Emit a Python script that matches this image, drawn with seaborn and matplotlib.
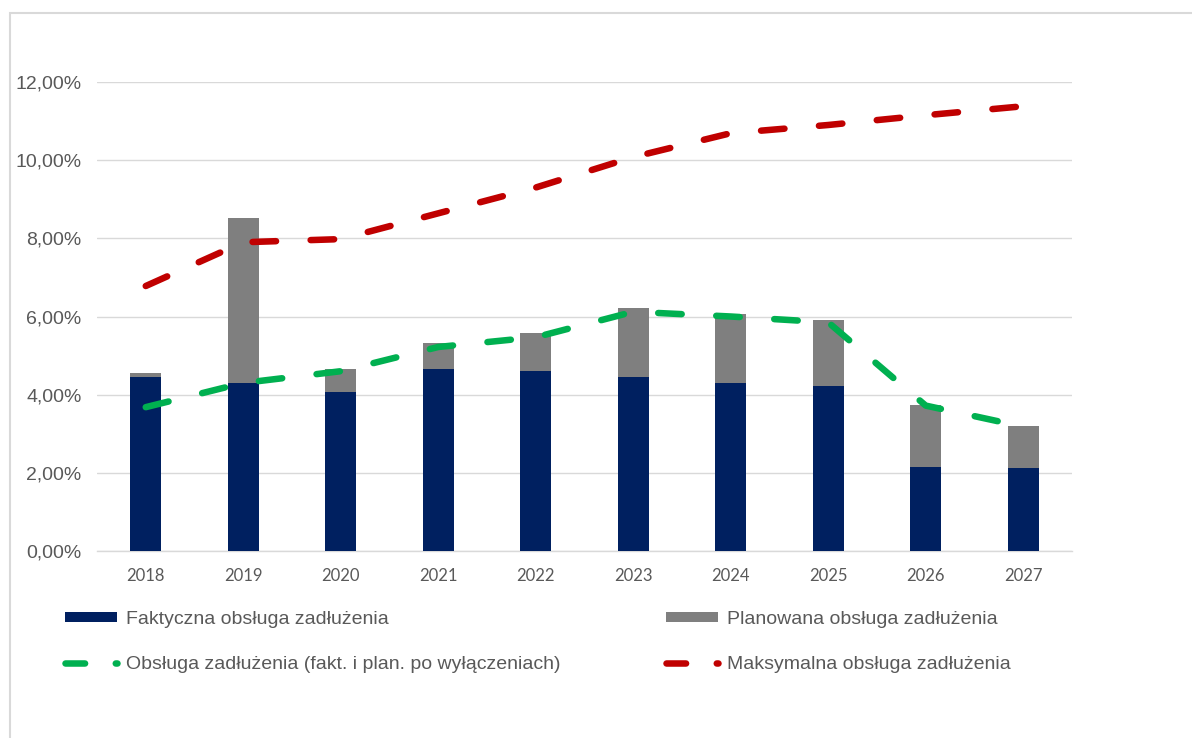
import matplotlib
matplotlib.use("Agg")
import matplotlib.pyplot as plt
import seaborn as sns
import numpy as np
import pandas as pd
from matplotlib.patches import Patch, Rectangle
from matplotlib.lines import Line2D
from matplotlib.ticker import FuncFormatter

years = ["2018", "2019", "2020", "2021", "2022", "2023", "2024", "2025", "2026", "2027"]
actual = [4.46, 4.31, 4.07, 4.65, 4.61, 4.46, 4.29, 4.22, 2.16, 2.12]
total = [4.56, 8.52, 4.65, 5.31, 5.57, 6.23, 6.06, 5.92, 3.73, 3.20]
after_excl = [3.68, 4.30, 4.60, 5.22, 5.47, 6.12, 6.00, 5.85, 3.72, 3.18]
max_service = [6.78, 7.90, 7.98, 8.64, 9.30, 10.08, 10.69, 10.90, 11.15, 11.38]
yticks = [0, 2, 4, 6, 8, 10, 12]

labels = ["Faktyczna obsługa zadłużenia",
          "Planowana obsługa zadłużenia",
          "Obsługa zadłużenia (fakt. i plan. po wyłączeniach)",
          "Maksymalna obsługa zadłużenia"]

NAVY = "#002060"
GRAY = "#7F7F7F"
GREEN = "#00B050"
RED = "#C00000"
TXT = "#595959"
GRID = "#D9D9D9"

sns.set_theme(style="white")
plt.rcParams['font.family'] = ['Liberation Sans', 'DejaVu Sans']

df = pd.DataFrame({"year": years, "actual": actual, "total": total,
                   "excl": after_excl, "max": max_service})

fig = plt.figure(figsize=(11.92, 7.38), dpi=100)
ax = fig.add_axes([97/1192, 1-551/738, (1072-97)/1192, (551-82)/738])

sns.barplot(data=df, x="year", y="total", color=GRAY, width=0.32, saturation=1,
            ax=ax, zorder=2, linewidth=0)
sns.barplot(data=df, x="year", y="actual", color=NAVY, width=0.32, saturation=1,
            ax=ax, zorder=3, linewidth=0)

lw = 4.7
dash = (0, (3.6, 5.3))
sns.lineplot(data=df, x="year", y="excl", color=GREEN, lw=lw, linestyle=dash,
             dash_capstyle="round", solid_capstyle="round", ax=ax, zorder=4)
sns.lineplot(data=df, x="year", y="max", color=RED, lw=lw, linestyle=dash,
             dash_capstyle="round", solid_capstyle="round", ax=ax, zorder=4)

ax.set_ylim(0, 12)
ax.set_xlim(-0.5, len(years) - 0.5)
ax.set_yticks(yticks)
ax.yaxis.set_major_formatter(FuncFormatter(lambda v, p: f"{v:.2f}".replace(".", ",") + "%"))
ax.grid(axis="y", color=GRID, lw=1, zorder=0)
ax.set_axisbelow(True)
for s in ["left", "right", "top"]:
    ax.spines[s].set_visible(False)
ax.spines["bottom"].set_color(GRID)
ax.spines["bottom"].set_linewidth(1)
ax.tick_params(axis="both", length=0)
ax.tick_params(axis="y", labelsize=14, labelcolor=TXT, pad=11)
ax.tick_params(axis="x", labelcolor=TXT, pad=12)
for t in ax.get_xticklabels():
    t.set_fontfamily(["Lato", "DejaVu Sans"])
    t.set_fontsize(12)
ax.set_xlabel("")
ax.set_ylabel("")

leg_dash = (0, (3.0, 4.7))
handles = [
    Patch(facecolor=NAVY, edgecolor="none"),
    Line2D([], [], color=GREEN, lw=lw, linestyle=leg_dash, dash_capstyle="round"),
    Patch(facecolor=GRAY, edgecolor="none"),
    Line2D([], [], color=RED, lw=lw, linestyle=leg_dash, dash_capstyle="round"),
]
leg_labels = [labels[0], labels[2], labels[1], labels[3]]
fig.legend(handles, leg_labels, loc="upper left", bbox_to_anchor=(65/1192, 1-611/738),
           ncol=2, frameon=False, fontsize=14, handlelength=2.67, handleheight=0.37,
           handletextpad=0.45, columnspacing=5.45, labelspacing=1.42,
           borderpad=0, borderaxespad=0, labelcolor=TXT)

# outer chart frame
fig.patches.append(Rectangle((10/1192, -0.05), 1.2, 1 - 13/738 + 0.05,
                             transform=fig.transFigure, fill=False,
                             edgecolor=GRID, lw=1.5, zorder=0))

fig.savefig("out.png", dpi=100, facecolor="white")
